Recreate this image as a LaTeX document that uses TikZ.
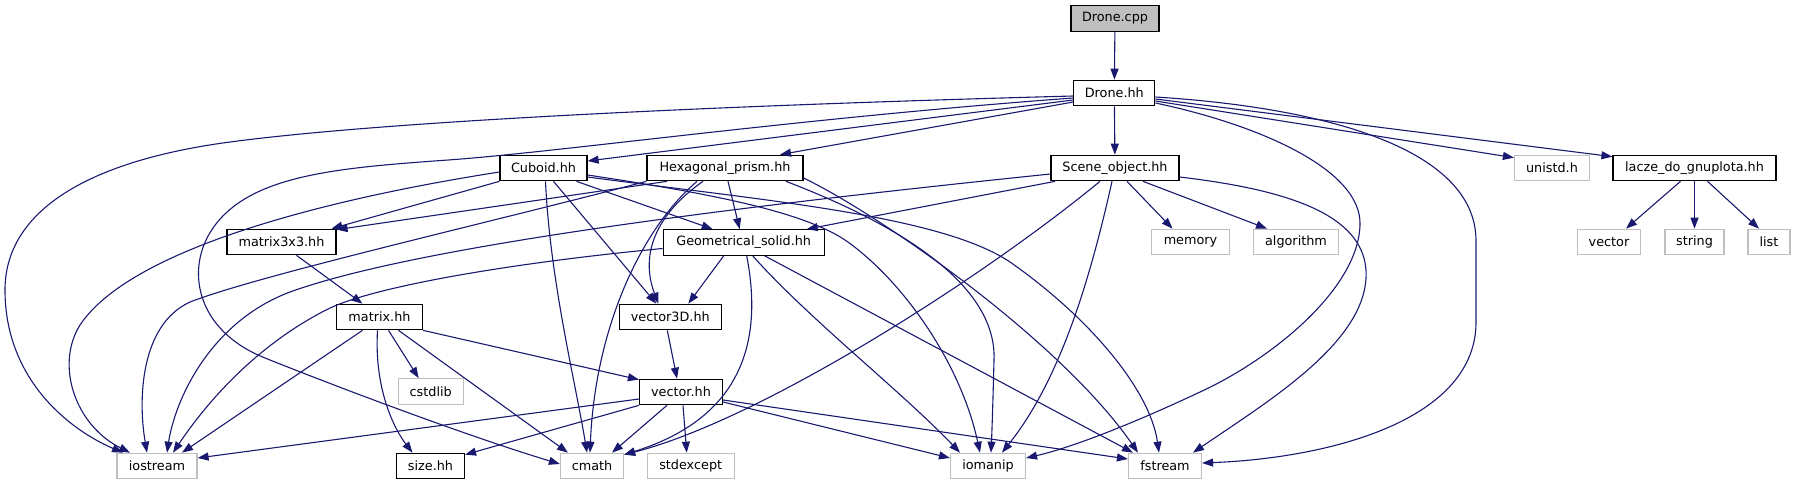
\documentclass[tikz,border=0pt]{standalone}
\usepackage{fontspec}
\setmainfont{DejaVu Sans}
\usetikzlibrary{arrows.meta}

\definecolor{edgeblue}{HTML}{191970}
\definecolor{sysgray}{HTML}{BFBFBF}

\begin{document}
\begin{tikzpicture}[x=1pt, y=-1pt, >={Triangle[length=11pt,width=8pt]},
    hdr/.style={draw=black, line width=1.2pt, fill=white, minimum height=25.5pt,
                inner sep=0pt, font=\fontsize{12.8}{15}\selectfont},
    sys/.style={hdr, draw=sysgray},
    dep/.style={->, edgeblue, line width=1.1pt}]

        \useasboundingbox (0,0) rectangle (1796,485);

        % ==== FILES ====
        \node[hdr, fill=sysgray, minimum width=88pt] (dcpp) at (1115,18.5) {Drone.cpp};
        \node[hdr, minimum width=81pt] (dhh) at (1114.3,93) {Drone.hh};

        \node[hdr, minimum width=87pt]  (cub) at (543.5,168) {Cuboid.hh};
        \node[hdr, minimum width=156pt] (hex) at (725,168) {Hexagonal\_prism.hh};
        \node[hdr, minimum width=128pt] (scn) at (1115,168) {Scene\_object.hh};
        \node[sys, minimum width=75pt]  (uni) at (1552,168) {unistd.h};
        \node[hdr, minimum width=163pt] (lac) at (1694.5,168) {lacze\_do\_gnuplota.hh};

        \node[hdr, minimum width=109pt] (m33) at (281.5,242) {matrix3x3.hh};
        \node[hdr, minimum width=161pt] (geo) at (743.7,242.5) {Geometrical\_solid.hh};
        \node[sys, minimum width=78pt]  (mem) at (1190.5,242) {memory};
        \node[sys, minimum width=85pt]  (alg) at (1296,242) {algorithm};
        \node[sys, minimum width=63pt]  (stlvec) at (1609,242) {vector};
        \node[sys, minimum width=59pt]  (str) at (1694.5,242) {string};
        \node[sys, minimum width=42pt]  (lst) at (1769,242) {list};

        \node[hdr, minimum width=86pt]  (mat) at (379.5,317) {matrix.hh};
        \node[hdr, minimum width=102pt] (v3d) at (670.3,317) {vector3D.hh};

        \node[sys, minimum width=65pt]  (cst) at (430.7,391.5) {cstdlib};
        \node[hdr, minimum width=83pt]  (vech) at (681,392) {vector.hh};

        \node[sys, minimum width=80pt]  (ios) at (157,466) {iostream};
        \node[hdr, minimum width=68pt]  (siz) at (430.5,466) {size.hh};
        \node[sys, minimum width=63pt]  (cmt) at (592,466) {cmath};
        \node[sys, minimum width=87pt]  (sex) at (690.7,466) {stdexcept};
        \node[sys, minimum width=75pt]  (imp) at (988,466) {iomanip};
        \node[sys, minimum width=73pt]  (fst) at (1165,466) {fstream};

        % ==== DRONE.CPP ====
        \draw[dep] (dcpp) -- (dhh);

        % ==== DRONE.HH ====
        \draw[dep] ([yshift=-3pt]dhh.west) .. controls (700,106) and (380,122) .. (230,142)
            .. controls (80,162) and (5,215) .. (5,290)
            .. controls (5,380) and (70,430) .. ([xshift=-34pt]ios.north);
        \draw[dep] ([yshift=-5pt]dhh.west) .. controls (800,118) and (560,152) .. (448,160)
            .. controls (336,168) and (250,175) .. (213,228)
            .. controls (185,268) and (195,330) .. (265,358)
            .. controls (360,396) and (480,440) .. ([yshift=2pt]cmt.west);
        \draw[dep] ([yshift=-7pt]dhh.west) -- ([yshift=7pt]cub.east);
        \draw[dep] ([yshift=-9pt]dhh.west) -- ([xshift=55pt]hex.north);
        \draw[dep] (dhh) -- (scn);
        \draw[dep] ([yshift=-8pt]dhh.east) -- ([yshift=-3pt]uni.north west);
        \draw[dep] ([yshift=-6pt]dhh.east) -- ([yshift=-2pt]lac.north west);
        \draw[dep] ([yshift=-4pt]dhh.east) .. controls (1330,108) and (1475,150) .. (1476,240)
            -- (1476,320)
            .. controls (1478,420) and (1330,458) .. ([yshift=3pt]fst.east);
        \draw[dep] ([yshift=-10pt]dhh.east) .. controls (1260,125) and (1362,170) .. (1360,225)
            .. controls (1358,290) and (1270,360) .. (1200,392)
            .. controls (1130,425) and (1070,448) .. ([yshift=8pt]imp.east);

        % ==== CUBOID.HH ====
        \draw[dep] (cub.south west) -- ([xshift=50pt]m33.north);
        \draw[dep] ([yshift=-4pt]cub.west) .. controls (320,200) and (130,250) .. (80,325)
            .. controls (55,365) and (75,425) .. ([xshift=-27pt]ios.north);
        \draw[dep] ([xshift=2pt]cub.south) .. controls (550,280) and (575,380) .. ([xshift=-5pt]cmt.north);
        \draw[dep] ([xshift=10pt]cub.south) -- ([xshift=-14pt]v3d.north);
        \draw[dep] ([xshift=33pt]cub.south) -- ([xshift=-31pt]geo.north);
        \draw[dep] ([yshift=-7pt]cub.east) .. controls (700,192) and (800,210) .. (845,240)
            .. controls (900,278) and (960,360) .. ([xshift=-8pt]imp.north);
        \draw[dep] ([yshift=-9pt]cub.east) .. controls (760,200) and (940,215) .. (1010,262)
            .. controls (1090,318) and (1150,390) .. ([xshift=-6pt]fst.north);

        % ==== HEXAGONAL_PRISM.HH ====
        \draw[dep] ([xshift=-58pt]hex.south) -- ([yshift=-1pt]m33.north east);
        \draw[dep] (hex.south west) .. controls (480,225) and (260,275) .. (190,302)
            .. controls (140,325) and (138,400) .. ([xshift=-10pt]ios.north);
        \draw[dep] ([xshift=-28pt]hex.south) .. controls (640,230) and (595,330) .. ([xshift=-2pt]cmt.north);
        \draw[dep] ([xshift=-22pt]hex.south) .. controls (655,215) and (640,255) .. ([xshift=-12pt]v3d.north);
        \draw[dep] ([xshift=3pt]hex.south) -- ([xshift=-4pt]geo.north);
        \draw[dep] ([xshift=61pt]hex.south) .. controls (900,225) and (997,285) .. (994,360)
            .. controls (993,400) and (992,430) .. ([xshift=3pt]imp.north);
        \draw[dep] ([yshift=-10pt]hex.east) .. controls (880,215) and (1060,340) .. ([xshift=-27pt]fst.north);

        % ==== SCENE_OBJECT.HH ====
        \draw[dep] ([xshift=-60pt]scn.south) -- ([xshift=63pt]geo.north);
        \draw[dep] ([yshift=-6pt]scn.west) .. controls (750,205) and (420,245) .. (290,292)
            .. controls (210,322) and (175,400) .. ([xshift=10pt]ios.north);
        \draw[dep] ([xshift=-15pt]scn.south) .. controls (980,280) and (760,420) .. ([yshift=-2pt]cmt.north east);
        \draw[dep] ([xshift=-3pt]scn.south) .. controls (1090,280) and (1060,380) .. ([xshift=14pt]imp.north);
        \draw[dep] ([xshift=12pt]scn.south) -- ([xshift=-18pt]mem.north);
        \draw[dep] ([xshift=28pt]scn.south) -- ([xshift=-29pt]alg.north);
        \draw[dep] ([yshift=-9pt]scn.east) .. controls (1290,190) and (1362,215) .. (1366,270)
            .. controls (1370,340) and (1270,400) .. ([xshift=28pt]fst.north);

        % ==== LACZE_DO_GNUPLOTA.HH ====
        \draw[dep] ([xshift=-14pt]lac.south) -- ([xshift=17pt]stlvec.north);
        \draw[dep] (lac.south) -- (str.north);
        \draw[dep] ([xshift=13pt]lac.south) -- ([xshift=-10pt]lst.north);

        % ==== MATRIX3X3.HH / MATRIX.HH ====
        \draw[dep] ([xshift=15pt]m33.south) -- ([xshift=-17pt]mat.north);
        \draw[dep] ([xshift=-17pt]mat.south) -- ([xshift=25pt]ios.north);
        \draw[dep] ([xshift=9pt]mat.south) -- ([xshift=-12pt]cst.north);
        \draw[dep] ([xshift=-2pt]mat.south) .. controls (374,390) and (395,430) .. ([xshift=-18pt]siz.north);
        \draw[dep] ([xshift=19pt]mat.south) -- ([xshift=-24pt]cmt.north);
        \draw[dep] (mat.south east) -- ([yshift=-1pt]vech.north west);

        % ==== GEOMETRICAL_SOLID.HH ====
        \draw[dep] ([yshift=-6pt]geo.west) .. controls (520,262) and (380,285) .. (330,308)
            .. controls (245,350) and (195,420) .. ([xshift=16pt]ios.north);
        \draw[dep] ([xshift=-20pt]geo.south) -- ([xshift=18pt]v3d.north);
        \draw[dep] ([xshift=3pt]geo.south) .. controls (765,350) and (735,420) .. ([yshift=-2pt]cmt.north east);
        \draw[dep] ([xshift=9pt]geo.south) .. controls (810,320) and (900,390) .. ([xshift=-28pt]imp.north);
        \draw[dep] ([xshift=21pt]geo.south) -- ([xshift=-32pt]fst.north);

        % ==== VECTOR3D.HH / VECTOR.HH ====
        \draw[dep] ([xshift=-3pt]v3d.south) -- ([xshift=-4pt]vech.north);
        \draw[dep] ([yshift=-7pt]vech.west) -- ([yshift=8pt]ios.east);
        \draw[dep] (vech.south west) -- ([yshift=-2pt]siz.north east);
        \draw[dep] ([xshift=-14pt]vech.south) -- ([xshift=20pt]cmt.north);
        \draw[dep] ([xshift=2pt]vech.south) -- ([xshift=-4pt]sex.north);
        \draw[dep] ([yshift=-10pt]vech.east) -- ([yshift=8pt]imp.west);
        \draw[dep] ([yshift=-8pt]vech.east) -- ([yshift=7pt]fst.west);

    \end{tikzpicture}
\end{document}
